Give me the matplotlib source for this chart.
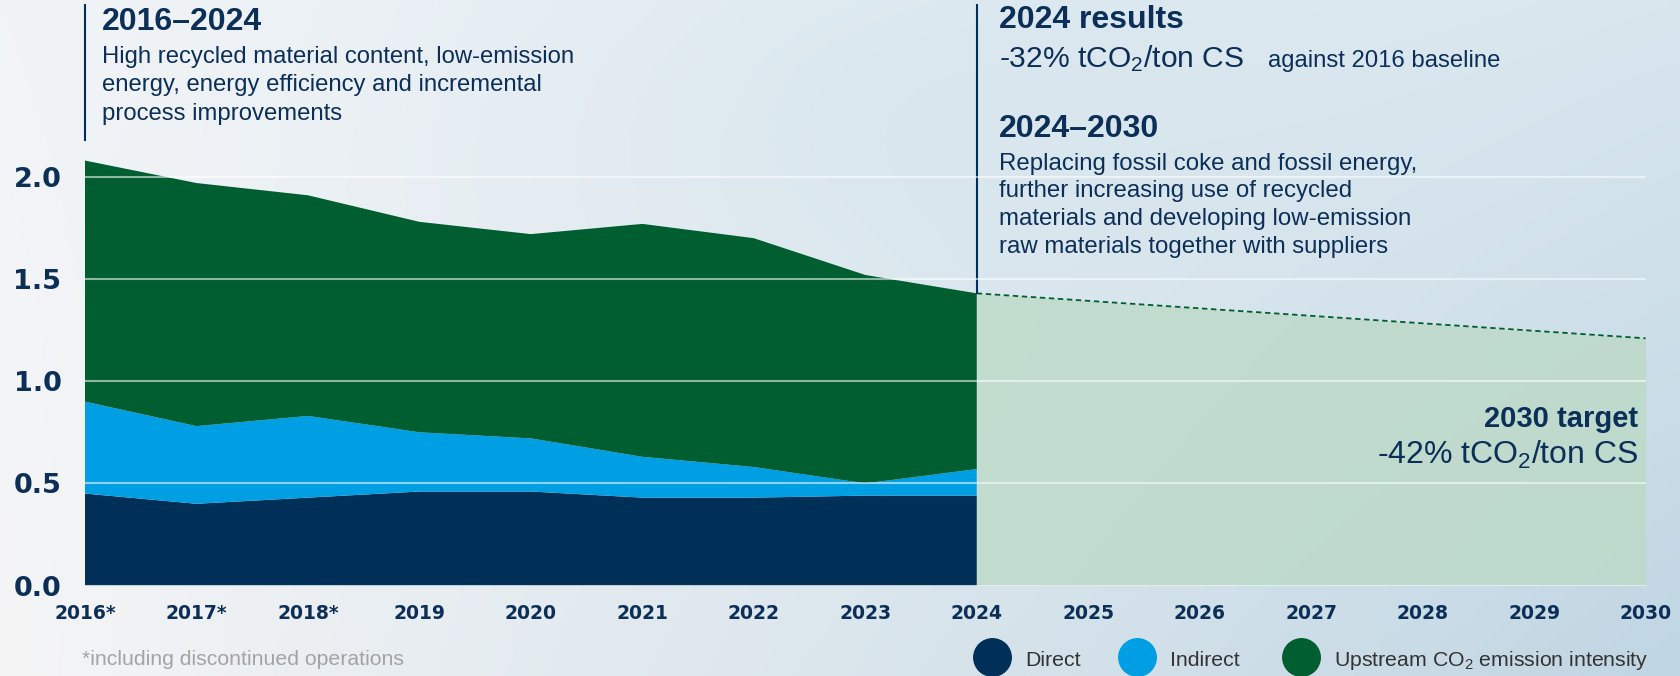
import numpy as np
import matplotlib.pyplot as plt
from matplotlib.lines import Line2D

plt.rcParams['font.family'] = ['Liberation Sans', 'DejaVu Sans']
plt.rcParams['mathtext.fontset'] = 'custom'
plt.rcParams['mathtext.rm'] = 'Liberation Sans'
plt.rcParams['mathtext.it'] = 'Liberation Sans'

# данные (tCO2/ton CS)
years = [2016, 2017, 2018, 2019, 2020, 2021, 2022, 2023, 2024]
direct = [0.45, 0.40, 0.43, 0.46, 0.46, 0.43, 0.43, 0.44, 0.44]
indirect = [0.45, 0.38, 0.40, 0.29, 0.26, 0.20, 0.15, 0.06, 0.13]
upstream = [1.18, 1.19, 1.08, 1.03, 1.00, 1.14, 1.12, 1.02, 0.86]
target_years = [2024, 2030]
target_values = [1.43, 1.21]
tick_years = list(range(2016, 2031))
tick_labels = ['2016*', '2017*', '2018*', '2019', '2020', '2021', '2022', '2023',
               '2024', '2025', '2026', '2027', '2028', '2029', '2030']
y_ticks = [0.0, 0.5, 1.0, 1.5, 2.0]
series_names = ['Direct', 'Indirect', 'Upstream CO$_2$ emission intensity']

navy = '#003057'
blue = '#009fe3'
green = '#005e30'
text_col = '#0c2f58'

W, H = 1681, 676
fig = plt.figure(figsize=(W / 100, H / 100), dpi=100)

# фон (небо)
bg = fig.add_axes([0, 0, 1, 1])
bg.axis('off')
gx = np.linspace(0, 1, 200)[None, :]
gy = np.linspace(0, 1, 80)[:, None]
tl = np.array([0xf1, 0xf4, 0xf7]) / 255
tr = np.array([0xd8, 0xe6, 0xee]) / 255
bl = np.array([0xf5, 0xf5, 0xf6]) / 255
br = np.array([0xc0, 0xd6, 0xe3]) / 255
img = ((1 - gy) * (1 - gx))[..., None] * tl + ((1 - gy) * gx)[..., None] * tr \
    + (gy * (1 - gx))[..., None] * bl + (gy * gx)[..., None] * br
# голубоватое пятно сверху по центру
blob = np.exp(-((gx - 0.55) ** 2 / 0.05 + (gy - 0.15) ** 2 / 0.08))[..., None]
img = img * (1 - 0.35 * blob) + np.array([0xcc, 0xdf, 0xea]) / 255 * 0.35 * blob
bg.imshow(img, aspect='auto', extent=[0, W, H, 0], interpolation='bicubic')
bg.set_xlim(0, W)
bg.set_ylim(H, 0)

# основной график
y0_px, unit_px = 585.5, 204.3
ymax = 2.2
ax = fig.add_axes([85 / W, (H - y0_px) / H, (1645.6 - 85) / W, ymax * unit_px / H])
ax.set_facecolor('none')
ax.stackplot(years, direct, indirect, upstream, colors=[navy, blue, green], linewidth=0)
ax.fill_between(target_years, 0, target_values, color='#bcdac7', alpha=0.8, linewidth=0)
ax.plot(target_years, target_values, color=green, lw=1.3, ls=(0, (3, 2)))
ax.set_xlim(2016, 2030)
ax.set_ylim(0, ymax)
ax.set_yticks(y_ticks)
ax.set_yticklabels([f'{v:.1f}' for v in y_ticks])
ax.set_xticks(tick_years)
ax.set_xticklabels(tick_labels)
ax.set_axisbelow(False)
ax.grid(axis='y', color='white', alpha=0.55, lw=1.5)
for s in ax.spines.values():
    s.set_visible(False)
ax.tick_params(axis='y', length=0, pad=17, labelsize=19.5, labelcolor=text_col)
ax.tick_params(axis='x', length=0, pad=13, labelsize=13.5, labelcolor=text_col)
for lab in ax.get_xticklabels() + ax.get_yticklabels():
    lab.set_fontfamily('DejaVu Sans')
    lab.set_fontweight('bold')

# вертикальные линии
ax.plot([2016, 2016], [2.18, 2.84], color=navy, lw=1.5, clip_on=False)
ax.plot([2024, 2024], [target_values[0], 2.84], color=navy, lw=1.5, clip_on=False)

# слой для подписей поверх графика
top = fig.add_axes([0, 0, 1, 1])
top.axis('off')
top.set_xlim(0, W)
top.set_ylim(H, 0)

def lines(x, y, items, step, size, **kw):
    for i, t in enumerate(items):
        top.text(x, y + i * step, t, fontsize=size, color=text_col, va='baseline', **kw)

top.text(102, 30, '2016–2024', fontsize=23, fontweight='bold', color=text_col, va='baseline')
lines(102, 63, ['High recycled material content, low-emission',
                'energy, energy efficiency and incremental',
                'process improvements'], 28.5, 17.2)

top.text(999, 28, '2024 results', fontsize=23, fontweight='bold', color=text_col, va='baseline')
top.text(999, 67, '-32% tCO$_2$/ton CS', fontsize=21.6, color=text_col, va='baseline')
top.text(1268, 67, 'against 2016 baseline', fontsize=17.2, color=text_col, va='baseline')
top.text(999, 137, '2024–2030', fontsize=23, fontweight='bold', color=text_col, va='baseline')
lines(999, 170, ['Replacing fossil coke and fossil energy,',
                 'further increasing use of recycled',
                 'materials and developing low-emission',
                 'raw materials together with suppliers'], 27.5, 17.3)

top.text(1638, 427, '2030 target', fontsize=21, fontweight='bold', color=text_col,
         va='baseline', ha='right')
top.text(1638, 464, '-42% tCO$_2$/ton CS', fontsize=23, color=text_col,
         va='baseline', ha='right')

top.text(82, 665, '*including discontinued operations', fontsize=15.3, color='#a3a3a3',
         va='baseline')

# легенда
for cx, name, col in zip([992, 1137, 1301], series_names, [navy, blue, green]):
    top.add_line(Line2D([cx], [657], marker='o', markersize=27, color=col, lw=0))
    top.text(cx + 33, 666, name, fontsize=15.3, color='#333333', va='baseline')

fig.savefig('out.png', dpi=100)
